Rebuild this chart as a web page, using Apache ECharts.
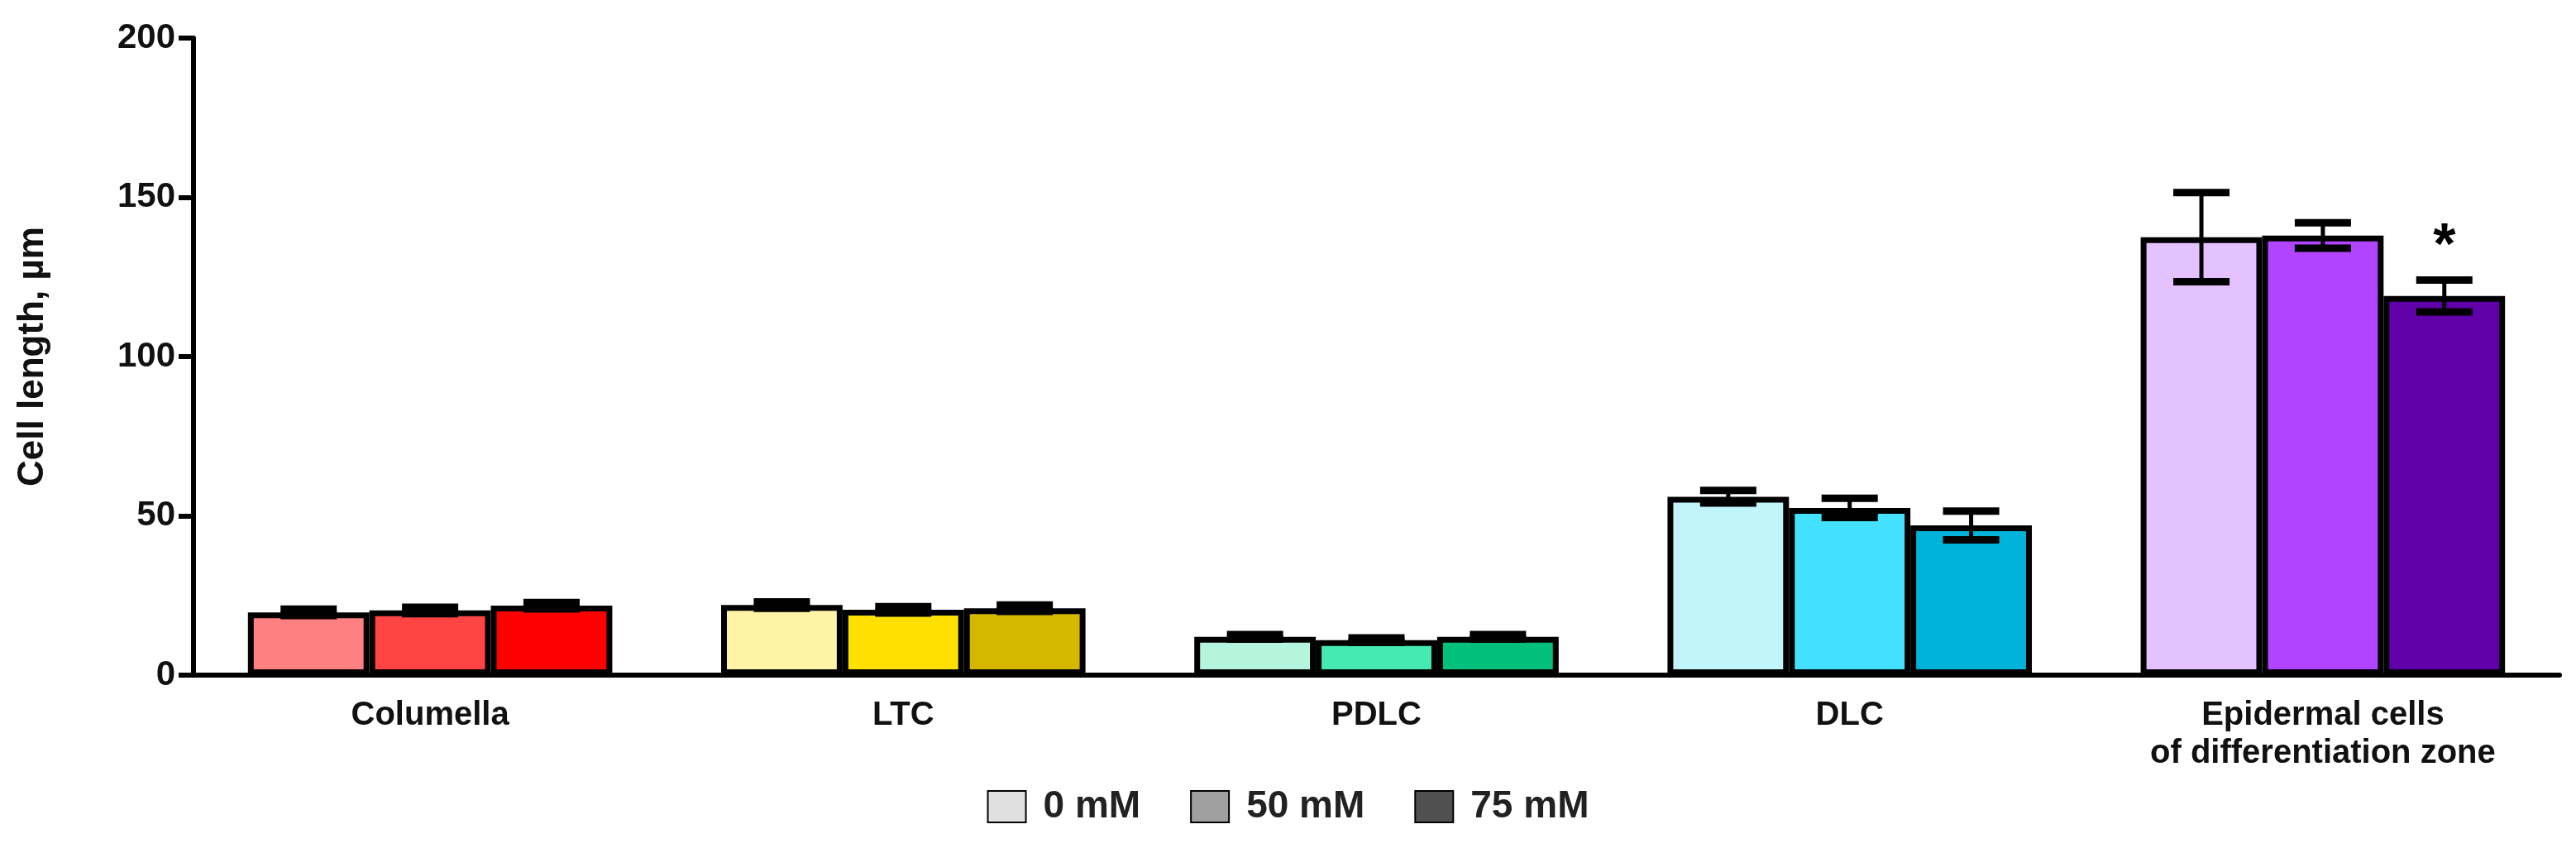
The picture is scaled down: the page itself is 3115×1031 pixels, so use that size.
<!DOCTYPE html>
<html><head><meta charset="utf-8">
<script src="https://cdn.jsdelivr.net/npm/echarts@6/dist/echarts.min.js"></script>
<style>html,body{margin:0;padding:0;background:#fff}#c{width:3115px;height:1031px}</style>
</head><body><div id="c"></div>
<script>
const categories = ['Columella','LTC','PDLC','DLC','Epidermal cells\nof differentiation zone'];
const seriesNames = ['0 mM','50 mM','75 mM'];
const values0 = [19.7, 22, 12, 56, 137.5];
const values50 = [20.3, 20.5, 11, 52.5, 138];
const values75 = [21.8, 21, 12, 47, 119];
const err0 = [1, 1, 0.7, 2, 14];
const err50 = [1, 1, 0.7, 3, 4];
const err75 = [1, 1, 0.7, 4.5, 5];
const stars75 = ['', '', '', '', '*'];
const yTicks = [0, 50, 100, 150, 200];
const colors = [
  ['#FF8080','#FF4444','#FF0000'],
  ['#FFF3A6','#FFE000','#D4B800'],
  ['#B5F5DE','#44EAB2','#00C07C'],
  ['#C2F4FC','#44E0FF','#00B2DA'],
  ['#E4C2FF','#B044FF','#6000A8']
];
const legendColors = ['#E0E0E0','#A0A0A0','#505050'];
const vals = [values0, values50, values75];
const errs = [err0, err50, err75];
const gapFrac = 0.23;
const FONT = 'Arial, "Liberation Sans"';
const chart = echarts.init(document.getElementById('c'));
const series = [];
vals.forEach((v, s) => {
  series.push({
    name: seriesNames[s], type: 'bar', barGap: '0%', barCategoryGap: (gapFrac*100)+'%',
    itemStyle: {color: legendColors[s], borderColor: '#000', borderWidth: 6},
    data: v.map((y, i) => ({value: y, itemStyle: {color: colors[i][s], borderColor:'#000', borderWidth:7}}))
  });
});
vals.forEach((v, s) => {
  series.push({
    type: 'custom', z: 10, silent: true,
    data: v.map((y, i) => [i, y, errs[s][i], s === 2 ? stars75[i] : '']),
    renderItem: function (params, api) {
      const i = api.value(0), y = api.value(1), e = api.value(2);
      const band = api.size([1, 0])[0];
      const bw = band * (1 - gapFrac) / 3;
      const c = api.coord([i, y]);
      const x = c[0] + (s - 1) * bw;
      const top = api.coord([i, y + e])[1];
      const bot = api.coord([i, y - e])[1];
      const cap = 34;
      const st = {stroke: '#000', lineWidth: 9};
      const ch = [
        {type: 'line', shape: {x1: x, y1: top, x2: x, y2: bot}, style: {stroke:'#000', lineWidth: 5}},
        {type: 'line', shape: {x1: x - cap, y1: top, x2: x + cap, y2: top}, style: st},
        {type: 'line', shape: {x1: x - cap, y1: bot, x2: x + cap, y2: bot}, style: st}
      ];
      const label = api.value(3);
      if (label) ch.push({type: 'text', style: {text: String(label), x: x, y: top - 4, align: 'center', verticalAlign: 'bottom', font: 'bold 70px ' + FONT, fill: '#000'}});
      return {type: 'group', children: ch};
    }
  });
});
chart.setOption({
  animation: false,
  grid: {left: 234, right: 20, top: 46, bottom: 215},
  legend: {
    data: seriesNames, bottom: 28, left: 'center', itemWidth: 46, itemHeight: 38, itemGap: 60, icon: 'rect',
    textStyle: {fontSize: 46, fontWeight: 'bold', color: '#222', fontFamily: FONT, padding: [0,0,0,16]}
  },
  xAxis: {
    type: 'category', data: categories,
    axisLine: {lineStyle: {color: '#000', width: 6}}, axisTick: {show: false},
    axisLabel: {fontSize: 40, fontWeight: 'bold', color: '#111', fontFamily: FONT, margin: 26, lineHeight: 46}
  },
  yAxis: {
    type: 'value', min: 0, max: 200, interval: 50,
    name: 'Cell length, µm', nameLocation: 'middle', nameGap: 172,
    nameTextStyle: {fontSize: 44, fontWeight: 'bold', color: '#111', fontFamily: FONT},
    axisLine: {show: true, lineStyle: {color: '#000', width: 6}},
    axisTick: {show: true, length: 18, lineStyle: {color: '#000', width: 6}},
    splitLine: {show: false},
    axisLabel: {fontSize: 42, fontWeight: 'bold', color: '#111', fontFamily: FONT, margin: 22,
      formatter: v => yTicks.includes(v) ? String(v) : ''}
  },
  series: series
});
</script></body></html>
